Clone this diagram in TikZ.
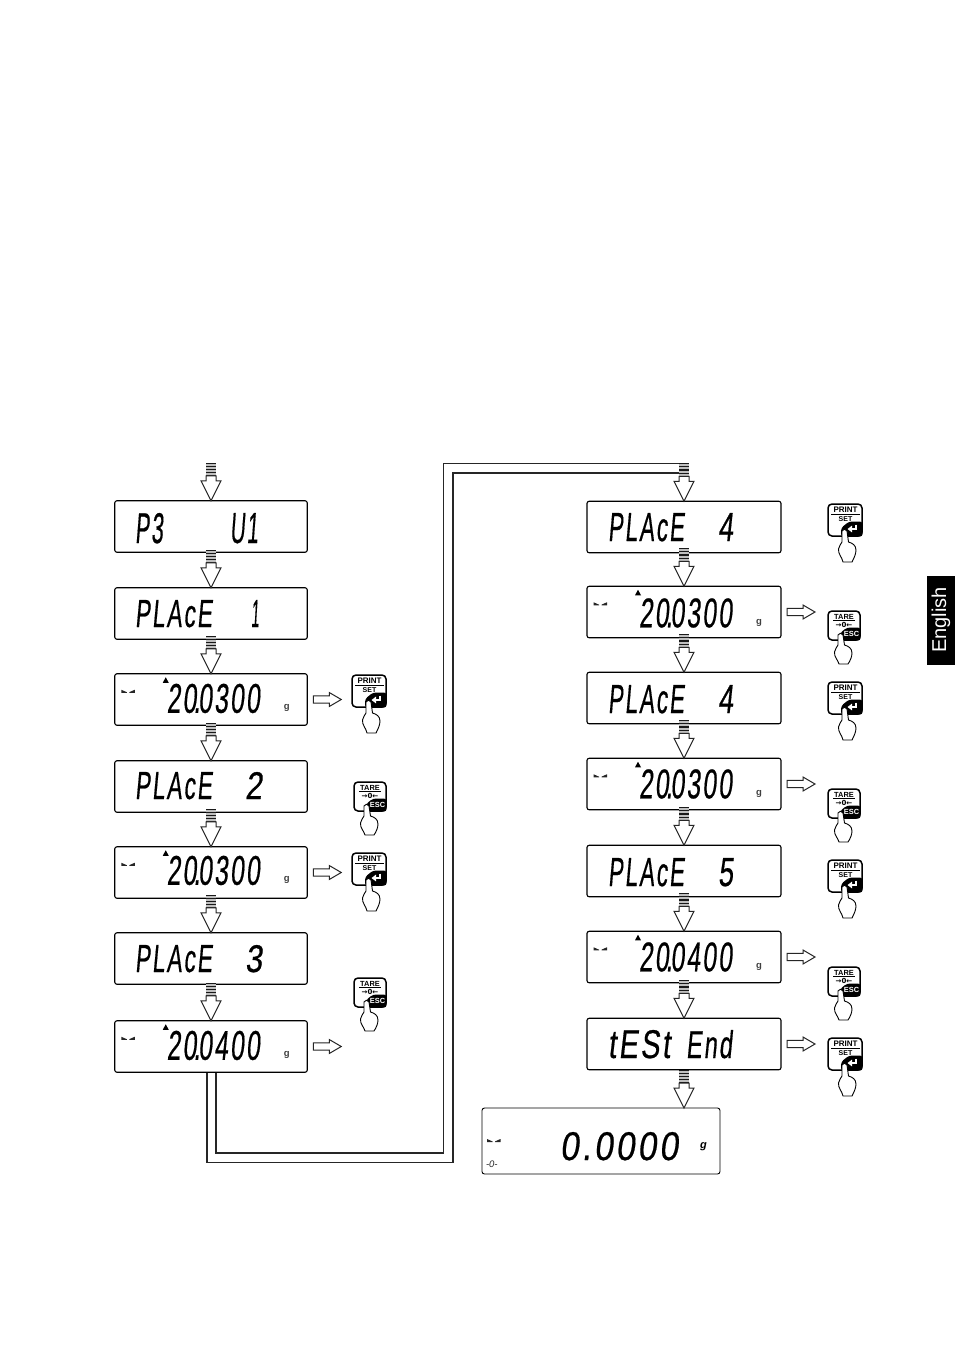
\documentclass[tikz,border=0pt]{standalone}
\usepackage{fontspec}
\usepackage{graphicx}
\usetikzlibrary{calc}
\setmainfont{Liberation Sans}
\newfontfamily\lcdfont[FakeSlant=0.16,LetterSpace=9,FakeBold=0.6]{Liberation Sans}
\newfontfamily\symfont{DejaVu Sans}

\tikzset{
  lcdbox/.style={draw=black,line width=1.1pt,rounded corners=2.2pt,fill=white,
    inner sep=0pt,outer sep=0pt,minimum height=51.5pt},
  narrowbox/.style={lcdbox,minimum width=192.5pt},
  widebox/.style={lcdbox,minimum width=194pt},
  lcdtext/.style={inner sep=0pt,outer sep=0pt,anchor=base west,text=black},
  keyline/.style={draw=black,line width=1.5pt,fill=white,rounded corners=4pt},
  handline/.style={draw=black,line width=.9pt,fill=white,line join=round},
  keytext/.style={inner sep=0pt,outer sep=0pt,text=black},
  hollow/.style={draw=black!85,line width=1pt,fill=white,line join=miter},
  pipe/.style={draw=black!85,line width=1.3pt},
  pics/stability/.style={code={
    \fill[black!85] (0,0) -- (5.5,2.4) -- (5.5,3.2) -- (0,3.2) -- cycle;
    \fill[black!85] (13.5,0) -- (8,2.4) -- (8,3.2) -- (13.5,3.2) -- cycle;
  }},
  pics/printkey/.style={code={
    \path[keyline] (0,0) rectangle (34,32);
    \fill[black,rounded corners=3pt] (34.7,17.5) -- (21,17.5) -- (13,24) -- (13,32.7) -- (34.7,32.7) -- cycle;
    \node[keytext,font=\bfseries\fontsize{8}{8}\selectfont] (-a) at (17.5,6) {PRINT};
    \draw[black,line width=.7pt] (3,10.5) -- (32,10.5);
    \node[keytext,font=\bfseries\fontsize{7}{7}\selectfont] (-b) at (17.5,14.6) {SET};
    \draw[white,line width=1.4pt] (28,20.5) -- (28,25) -- (21.5,25);
    \fill[white] (24,21.6) -- (24,28.4) -- (19.5,25) -- cycle;
    \path[handline] (14,27) .. controls (15,24.5) and (18,24.5) .. (19,27)
      -- (20.5,38) .. controls (24,39) and (28,41) .. (28,46)
      .. controls (28,50) and (26,54) .. (24,58) -- (15,58)
      .. controls (14,53) and (10,50) .. (10.5,45)
      .. controls (11,42) and (13,40) .. (14,38) -- cycle;
  }},
  pics/tarekey/.style={code={
    \path[keyline] (0,0) rectangle (32,29);
    \fill[black,rounded corners=3pt] (32.7,16.5) -- (19,16.5) -- (12,22) -- (12,29.7) -- (32.7,29.7) -- cycle;
    \node[keytext,font=\bfseries\fontsize{7.4}{7.4}\selectfont] (-a) at (16,5.6) {TARE};
    \draw[black,line width=.7pt] (5,9.7) -- (27,9.7);
    \node[keytext,font=\symfont\bfseries\fontsize{7}{7}\selectfont] (-b) at (16,13.6) {→0←};
    \path[handline] (10,24) .. controls (11,21.5) and (14,21.5) .. (15,24)
      -- (16.5,34) .. controls (20,35) and (24,37) .. (24,42)
      .. controls (24,46) and (22,50) .. (20,53) -- (11,53)
      .. controls (10,49) and (6,46) .. (6.5,41)
      .. controls (7,38) and (9,36) .. (10,34) -- cycle;
    \node[keytext,text=white,font=\bfseries\fontsize{7.4}{7.4}\selectfont] (-c) at (23.5,23.2) {ESC};
  }},
}

% Striped stem and hollow head running down to the top edge of the next display
\newcommand{\flowarrow}[2]{%
  \begin{scope}[shift={(#2.north -| #1.south)}]
    \fill[black!25] (-5,-38) rectangle (5,-25);
    \draw[black!90,line width=1.1pt] \foreach \k in {0,...,4} {(-5,-37.5+3.1*\k) -- (5,-37.5+3.1*\k)};
    \path[hollow] (0,0) -- (-10,-20) -- (-5,-20) -- (-5,-25) -- (5,-25) -- (5,-20) -- (10,-20) -- cycle;
  \end{scope}}

% Hollow arrow pointing from a display towards its key
\newcommand{\sidearrow}[1]{%
  \begin{scope}[shift={(#1.east)}]
    \path[hollow] (6,-3.6) -- (22,-3.6) -- (22,-7) -- (34,0) -- (22,7) -- (22,3.6) -- (6,3.6) -- cycle;
  \end{scope}}

% Segment-style wording: name, x, baseline, width, height, text
\newcommand{\lcdword}[6]{%
  \node[lcdtext] (#1) at (#2,#3) {\resizebox{#4pt}{#5pt}{\lcdfont #6}};}

% Reading with stability mark, weight triangle and unit
\newcommand{\reading}[3]{%
  \pic at ($(#1.north west)+(6.5,16)$) {stability};
  \fill[black] ($(#1.north west)+(48,9)$) -- ($(#1.north west)+(54,9)$) -- ($(#1.north west)+(51,3.5)$) -- cycle;
  \node[lcdtext] (#1-w) at ($(#1.north west)+(52,#2)$)
    {\resizebox{93pt}{29pt}{\lcdfont #3}};
  \node[lcdtext,font=\bfseries\fontsize{9.5}{9.5}\selectfont,text=black!75] (#1-g)
    at ($(#1.north west)+(169,#2-3)$) {g};}

\begin{document}
\begin{tikzpicture}[x=1pt,y=-1pt]
  \useasboundingbox[fill=white] (0,0) rectangle (955,1350);

  % Language tab on the page edge
  \fill[black] (927,576) rectangle (955,665);
  \node[rotate=90,text=white,inner sep=0pt,font=\fontsize{20}{20}\selectfont] (tab) at (941,620) {English};

  % Connector between the two columns
  \coordinate (topleft) at (211,462);
  \coordinate (topright) at (684,463);
  \draw[pipe] (207,1072) |- (453,1162.5) |- (680,473);
  \draw[pipe] (216,1072) |- (443.5,1153) |- (680,463.5);

  % Left column of displays
  \node[narrowbox] (a1) at (211,526.5) {};
  \node[narrowbox] (a2) at (211,613.5) {};
  \node[narrowbox] (a3) at (211,699.5) {};
  \node[narrowbox] (a4) at (211,786.5) {};
  \node[narrowbox] (a5) at (211,872.5) {};
  \node[narrowbox] (a6) at (211,958.5) {};
  \node[narrowbox] (a7) at (211,1046.5) {};

  % Right column of displays
  \node[widebox] (b1) at (684,527) {};
  \node[widebox] (b2) at (684,612) {};
  \node[widebox] (b3) at (684,698) {};
  \node[widebox] (b4) at (684,784) {};
  \node[widebox] (b5) at (684,871) {};
  \node[widebox] (b6) at (684,957) {};
  \node[widebox] (b7) at (684,1044) {};

  % Closing display
  \node[lcdbox,minimum width=238pt,minimum height=66pt,rounded corners=2.5pt,line width=.9pt] (c1) at (601,1141) {};

  % Wording on the left displays
  \lcdword{a1p}{135}{543}{28}{30}{P3}
  \lcdword{a1u}{230}{543}{28}{30}{U1}
  \lcdword{a2p}{135}{627}{77}{27}{PLAcE}
  \lcdword{a2n}{251}{627}{8}{27}{1}
  \reading{a3}{39}{20\kern-.12em.\kern-.08em0300}
  \lcdword{a4p}{135}{799}{77}{27}{PLAcE}
  \lcdword{a4n}{245}{799}{17}{27}{2}
  \reading{a5}{38}{20\kern-.12em.\kern-.08em0300}
  \lcdword{a6p}{135}{972}{77}{27}{PLAcE}
  \lcdword{a6n}{245}{972}{17}{27}{3}
  \reading{a7}{39}{20\kern-.12em.\kern-.08em0400}

  % Wording on the right displays
  \lcdword{b1p}{608}{541}{76}{28}{PLAcE}
  \lcdword{b1n}{718}{541}{15}{28}{4}
  \reading{b2}{41}{20\kern-.12em.\kern-.08em0300}
  \lcdword{b3p}{608}{713}{76}{28}{PLAcE}
  \lcdword{b3n}{718}{713}{15}{28}{4}
  \reading{b4}{40}{20\kern-.12em.\kern-.08em0300}
  \lcdword{b5p}{608}{886}{76}{28}{PLAcE}
  \lcdword{b5n}{718}{886}{15}{28}{5}
  \reading{b6}{40}{20\kern-.12em.\kern-.08em0400}
  \lcdword{b7p}{608}{1058}{62}{28}{tESt}
  \lcdword{b7n}{686}{1058}{46}{28}{End}

  % Closing display contents
  \pic at (487,1139) {stability};
  \lcdword{c1w}{560}{1160}{118}{28}{0.0000}
  \node[lcdtext,font=\bfseries\itshape\fontsize{11}{11}\selectfont] (c1g) at (700,1148) {g};
  \node[lcdtext,font=\itshape\fontsize{9.5}{9.5}\selectfont,text=black!85] (c1z) at (486,1167) {-0-};

  % Flow arrows
  \flowarrow{topleft}{a1}
  \flowarrow{a1}{a2}
  \flowarrow{a2}{a3}
  \flowarrow{a3}{a4}
  \flowarrow{a4}{a5}
  \flowarrow{a5}{a6}
  \flowarrow{a6}{a7}
  \flowarrow{topright}{b1}
  \flowarrow{b1}{b2}
  \flowarrow{b2}{b3}
  \flowarrow{b3}{b4}
  \flowarrow{b4}{b5}
  \flowarrow{b5}{b6}
  \flowarrow{b6}{b7}
  \flowarrow{b7}{c1}

  % Arrows towards the keys
  \sidearrow{a3}
  \sidearrow{a5}
  \sidearrow{a7}
  \sidearrow{b2}
  \sidearrow{b4}
  \sidearrow{b6}
  \sidearrow{b7}

  % Keys pressed by hand
  \pic (k1) at (352,675) {printkey};
  \pic (k2) at (354,782) {tarekey};
  \pic (k3) at (352,853) {printkey};
  \pic (k4) at (354,978) {tarekey};
  \pic (k5) at (828,504) {printkey};
  \pic (k6) at (828,611) {tarekey};
  \pic (k7) at (828,682) {printkey};
  \pic (k8) at (828,789) {tarekey};
  \pic (k9) at (828,860) {printkey};
  \pic (k10) at (828,967) {tarekey};
  \pic (k11) at (828,1038) {printkey};
\end{tikzpicture}
\end{document}
